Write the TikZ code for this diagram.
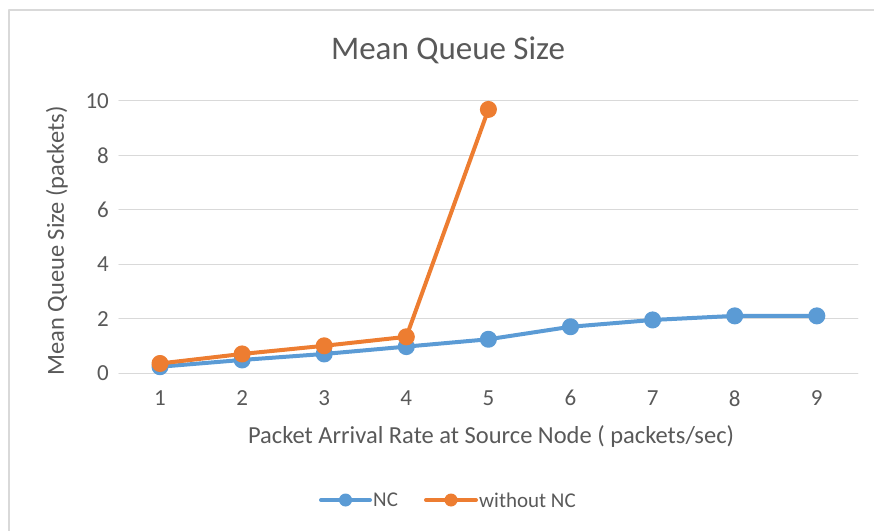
\documentclass[tikz,border=0pt]{standalone}
\usepackage{fontspec}
\setmainfont{Carlito}
\usetikzlibrary{calc}
\definecolor{ncblue}{HTML}{5B9BD5}
\definecolor{ncorange}{HTML}{ED7D31}
\definecolor{txtgray}{HTML}{595959}
\definecolor{gridgray}{HTML}{D9D9D9}
\tikzset{
  series/.style={line width=4pt, mark=*, mark size=6.5pt},
  legline/.style={line width=4pt},
  ticklab/.style={font=\fontsize{23}{27}\selectfont},
  axtitle/.style={font=\fontsize{24.5}{29}\selectfont},
}
\begin{document}
\begin{tikzpicture}[x=1pt, y=1pt, font=\fontsize{21}{25}\selectfont, text=txtgray, line join=round, line cap=round]
	\useasboundingbox (0,0) rectangle (874,530);
	\draw[gridgray, line width=2pt] (880,520) -- (9,520) -- (9,-5);
	\node (title) at (448,480) {\fontsize{33}{38}\selectfont Mean Queue Size};
	\begin{scope}[shift={(77.9,157)}, x=82.1pt, y=27.2pt]
		\foreach \y in {0,2,...,10} {
			\draw[gridgray, line width=1pt] (0.5,\y) -- (9.5,\y);
			\node[anchor=east, ticklab] (ytick\y) at (0.42,\y) {\y};
		}
		\foreach \x in {1,...,9}
			\node[ticklab] (xtick\x) at (\x,-0.93) {\x};
		\draw[ncblue, series] plot coordinates {(1,0.23) (2,0.48) (3,0.70) (4,0.97) (5,1.24) (6,1.70) (7,1.95) (8,2.10) (9,2.10)};
		\draw[ncorange, line width=2pt] (5,9.69) -- (5,9.97);
		\draw[ncorange, series] plot coordinates {(1,0.35) (2,0.70) (3,1.00) (4,1.33) (5,9.69)};
	\end{scope}
	\node[rotate=90, axtitle] (ytitle) at (57,289) {Mean Queue Size (packets)};
	\node[axtitle] (xtitle) at (491,93) {Packet Arrival Rate at Source Node ( packets/sec)};
	% legend
	\coordinate (ncA) at (321,30); \coordinate (ncB) at (370,30);
	\coordinate (woA) at (426,30); \coordinate (woB) at (476,30);
	\draw[ncblue, legline] (ncA) -- (ncB);
	\fill[ncblue] ($(ncA)!.5!(ncB)$) circle (6.5pt);
	\node[anchor=west, inner sep=3pt] (ncleg) at (ncB) {NC};
	\draw[ncorange, legline] (woA) -- (woB);
	\fill[ncorange] ($(woA)!.5!(woB)$) circle (6.5pt);
	\node[anchor=west, inner sep=3pt] (woleg) at (woB) {without NC};
\end{tikzpicture}
\end{document}
